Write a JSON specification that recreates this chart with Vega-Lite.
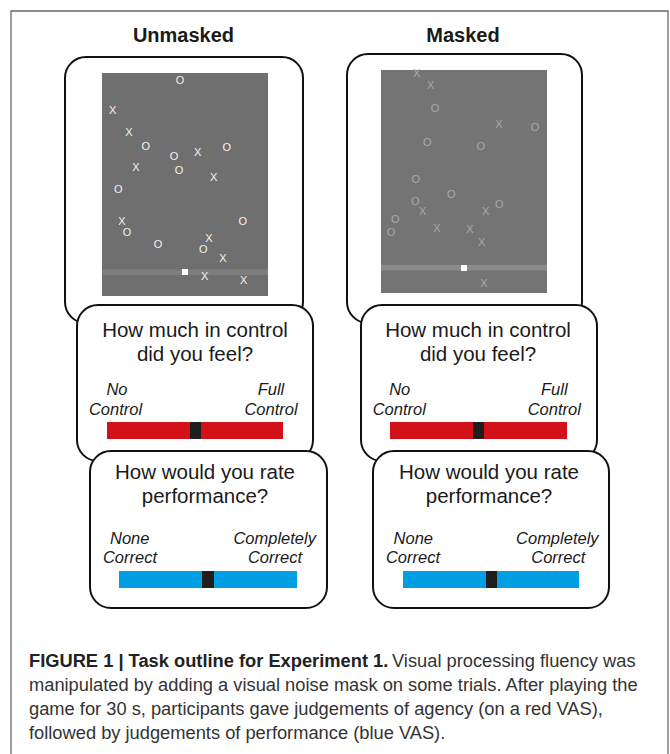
{
  "$schema": "https://vega.github.io/schema/vega-lite/v6.json",
  "width": 670,
  "height": 754,
  "padding": 0,
  "autosize": {"type": "fit", "contains": "padding"},
  "background": "white",
  "config": {"view": {"stroke": null}},
  "datasets": {
    "frame": [{"x1": 11, "x2": 668, "y1": 11, "y2": 800}],
    "boxes": [
      {"id": "game-unmasked", "x1": 65, "x2": 303, "y1": 57, "y2": 323},
      {"id": "game-masked", "x1": 347, "x2": 582, "y1": 54, "y2": 323},
      {"id": "control-unmasked", "x1": 77, "x2": 313, "y1": 305, "y2": 461},
      {"id": "control-masked", "x1": 361, "x2": 597, "y1": 305, "y2": 461},
      {"id": "perf-unmasked", "x1": 90, "x2": 327, "y1": 451, "y2": 608},
      {"id": "perf-masked", "x1": 373, "x2": 609, "y1": 451, "y2": 608}
    ],
    "rects": [
      {"part": "screen-unmasked", "x1": 102, "x2": 268, "y1": 73, "y2": 296},
      {"part": "screen-masked", "x1": 381, "x2": 547, "y1": 70, "y2": 293},
      {"part": "track-unmasked", "x1": 102, "x2": 268, "y1": 269.5, "y2": 275},
      {"part": "track-masked", "x1": 381, "x2": 547, "y1": 265, "y2": 270.5},
      {"part": "cursor", "x1": 182, "x2": 188, "y1": 269, "y2": 275},
      {"part": "cursor", "x1": 461, "x2": 467, "y1": 265, "y2": 271},
      {"part": "agency", "x1": 107, "x2": 283, "y1": 422, "y2": 439},
      {"part": "agency", "x1": 390, "x2": 567, "y1": 422, "y2": 439},
      {"part": "performance", "x1": 119, "x2": 297, "y1": 571, "y2": 588},
      {"part": "performance", "x1": 403, "x2": 579, "y1": 571, "y2": 588},
      {"part": "slider", "x1": 190, "x2": 201, "y1": 422, "y2": 439},
      {"part": "slider", "x1": 473, "x2": 484, "y1": 422, "y2": 439},
      {"part": "slider", "x1": 202, "x2": 214, "y1": 571, "y2": 588},
      {"part": "slider", "x1": 486, "x2": 497, "y1": 571, "y2": 588}
    ],
    "symbols": [
      {"panel": "Unmasked", "s": "O", "x": 180, "y": 81},
      {"panel": "Unmasked", "s": "X", "x": 112.7, "y": 111},
      {"panel": "Unmasked", "s": "X", "x": 129, "y": 133},
      {"panel": "Unmasked", "s": "O", "x": 145.7, "y": 146.7},
      {"panel": "Unmasked", "s": "O", "x": 174, "y": 156.7},
      {"panel": "Unmasked", "s": "X", "x": 197.7, "y": 153.3},
      {"panel": "Unmasked", "s": "O", "x": 226.7, "y": 148.3},
      {"panel": "Unmasked", "s": "X", "x": 136, "y": 168},
      {"panel": "Unmasked", "s": "O", "x": 179, "y": 171.3},
      {"panel": "Unmasked", "s": "X", "x": 213.7, "y": 178},
      {"panel": "Unmasked", "s": "O", "x": 118.3, "y": 190},
      {"panel": "Unmasked", "s": "X", "x": 122, "y": 221.7},
      {"panel": "Unmasked", "s": "O", "x": 242.7, "y": 222},
      {"panel": "Unmasked", "s": "O", "x": 127, "y": 233.3},
      {"panel": "Unmasked", "s": "O", "x": 158, "y": 245},
      {"panel": "Unmasked", "s": "X", "x": 209, "y": 238.7},
      {"panel": "Unmasked", "s": "O", "x": 203.3, "y": 250.3},
      {"panel": "Unmasked", "s": "X", "x": 223, "y": 259},
      {"panel": "Unmasked", "s": "X", "x": 204.7, "y": 277},
      {"panel": "Unmasked", "s": "X", "x": 243.7, "y": 280.7},
      {"panel": "Masked", "s": "X", "x": 416.7, "y": 74},
      {"panel": "Masked", "s": "X", "x": 430.7, "y": 86},
      {"panel": "Masked", "s": "O", "x": 435, "y": 109.3},
      {"panel": "Masked", "s": "X", "x": 499, "y": 125},
      {"panel": "Masked", "s": "O", "x": 535, "y": 127.7},
      {"panel": "Masked", "s": "O", "x": 427.3, "y": 143.3},
      {"panel": "Masked", "s": "O", "x": 480.7, "y": 146.7},
      {"panel": "Masked", "s": "O", "x": 415.7, "y": 179.7},
      {"panel": "Masked", "s": "O", "x": 451.3, "y": 195},
      {"panel": "Masked", "s": "O", "x": 415.3, "y": 201.7},
      {"panel": "Masked", "s": "X", "x": 422.7, "y": 212.3},
      {"panel": "Masked", "s": "X", "x": 485.7, "y": 212.3},
      {"panel": "Masked", "s": "O", "x": 499.3, "y": 205},
      {"panel": "Masked", "s": "O", "x": 395.3, "y": 220},
      {"panel": "Masked", "s": "X", "x": 437, "y": 229},
      {"panel": "Masked", "s": "X", "x": 470, "y": 230.3},
      {"panel": "Masked", "s": "O", "x": 391, "y": 233},
      {"panel": "Masked", "s": "X", "x": 481.7, "y": 243.3},
      {"panel": "Masked", "s": "X", "x": 484, "y": 284}
    ],
    "titles": [
      {"t": "Unmasked", "x": 183.5, "y": 36},
      {"t": "Masked", "x": 463, "y": 36}
    ],
    "questions": [
      {"t": "How much in control", "x": 195, "y": 331},
      {"t": "did you feel?", "x": 195, "y": 355},
      {"t": "How much in control", "x": 478, "y": 331},
      {"t": "did you feel?", "x": 478, "y": 355},
      {"t": "How would you rate", "x": 205, "y": 473},
      {"t": "performance?", "x": 205, "y": 497},
      {"t": "How would you rate", "x": 489, "y": 473},
      {"t": "performance?", "x": 489, "y": 497}
    ],
    "labels": [
      {"t": "No", "x": 117, "y": 390},
      {"t": "Control", "x": 115.5, "y": 410},
      {"t": "Full", "x": 271, "y": 390},
      {"t": "Control", "x": 271, "y": 410},
      {"t": "No", "x": 399.7, "y": 390},
      {"t": "Control", "x": 399.3, "y": 410},
      {"t": "Full", "x": 554.3, "y": 390},
      {"t": "Control", "x": 554.3, "y": 410},
      {"t": "None", "x": 129.7, "y": 539},
      {"t": "Correct", "x": 130, "y": 558},
      {"t": "Completely", "x": 274.7, "y": 539},
      {"t": "Correct", "x": 275, "y": 558},
      {"t": "None", "x": 413.3, "y": 539},
      {"t": "Correct", "x": 413, "y": 558},
      {"t": "Completely", "x": 557.3, "y": 539},
      {"t": "Correct", "x": 558.3, "y": 558}
    ],
    "captionBold": [
      {"t": "FIGURE 1 | Task outline for Experiment 1.", "x": 29, "y": 661.5}
    ],
    "caption": [
      {"t": "Visual processing fluency was", "x": 392, "y": 661.5},
      {"t": "manipulated by adding a visual noise mask on some trials. After playing the", "x": 29, "y": 685.7},
      {"t": "game for 30 s, participants gave judgements of agency (on a red VAS),", "x": 29, "y": 709.5},
      {"t": "followed by judgements of performance (blue VAS).", "x": 29, "y": 734}
    ]
  },
  "encoding": {},
  "resolve": {"scale": {"color": "independent"}},
  "layer": [
    {
      "data": {"name": "frame"},
      "mark": {"type": "rect", "fill": null, "stroke": "#6a6a6a", "strokeWidth": 1.3, "clip": true},
      "encoding": {
        "x": {"field": "x1", "type": "quantitative", "scale": {"domain": [0, 670], "nice": false, "zero": false}, "axis": null},
        "x2": {"field": "x2"},
        "y": {"field": "y1", "type": "quantitative", "scale": {"domain": [0, 754], "nice": false, "zero": false, "reverse": true}, "axis": null},
        "y2": {"field": "y2"}
      }
    },
    {
      "data": {"name": "boxes"},
      "mark": {"type": "rect", "fill": "white", "stroke": "#111111", "strokeWidth": 2, "cornerRadius": 21},
      "encoding": {
        "x": {"field": "x1", "type": "quantitative"},
        "x2": {"field": "x2"},
        "y": {"field": "y1", "type": "quantitative"},
        "y2": {"field": "y2"}
      }
    },
    {
      "data": {"name": "rects"},
      "mark": {"type": "rect"},
      "encoding": {
        "x": {"field": "x1", "type": "quantitative"},
        "x2": {"field": "x2"},
        "y": {"field": "y1", "type": "quantitative"},
        "y2": {"field": "y2"},
        "color": {
          "field": "part", "type": "nominal", "legend": null,
          "scale": {
            "domain": ["screen-unmasked", "screen-masked", "track-unmasked", "track-masked", "cursor", "agency", "performance", "slider"],
            "range": ["#6f6f6f", "#747474", "#7e7e7e", "#8b8b8b", "#ffffff", "#d21119", "#009fe3", "#1e1e1e"]
          }
        }
      }
    },
    {
      "data": {"name": "symbols"},
      "mark": {"type": "text", "font": "Liberation Sans", "fontSize": 11, "align": "center", "baseline": "middle"},
      "encoding": {
        "x": {"field": "x", "type": "quantitative"},
        "y": {"field": "y", "type": "quantitative"},
        "text": {"field": "s"},
        "color": {
          "field": "panel", "type": "nominal", "legend": null,
          "scale": {"domain": ["Unmasked", "Masked"], "range": ["#f2f2f2", "#a9a9a9"]}
        }
      }
    },
    {
      "data": {"name": "titles"},
      "mark": {"type": "text", "font": "Liberation Sans", "fontSize": 20, "fontWeight": "bold", "color": "#1a1a1a", "align": "center", "baseline": "middle"},
      "encoding": {
        "x": {"field": "x", "type": "quantitative"},
        "y": {"field": "y", "type": "quantitative"},
        "text": {"field": "t"}
      }
    },
    {
      "data": {"name": "questions"},
      "mark": {"type": "text", "font": "Liberation Sans", "fontSize": 20.5, "color": "#1a1a1a", "align": "center", "baseline": "middle"},
      "encoding": {
        "x": {"field": "x", "type": "quantitative"},
        "y": {"field": "y", "type": "quantitative"},
        "text": {"field": "t"}
      }
    },
    {
      "data": {"name": "labels"},
      "mark": {"type": "text", "font": "Liberation Sans", "fontSize": 16.5, "fontStyle": "italic", "color": "#1a1a1a", "align": "center", "baseline": "middle"},
      "encoding": {
        "x": {"field": "x", "type": "quantitative"},
        "y": {"field": "y", "type": "quantitative"},
        "text": {"field": "t"}
      }
    },
    {
      "data": {"name": "captionBold"},
      "mark": {"type": "text", "font": "Liberation Sans", "fontSize": 18.3, "fontWeight": "bold", "color": "#222222", "align": "left", "baseline": "middle"},
      "encoding": {
        "x": {"field": "x", "type": "quantitative"},
        "y": {"field": "y", "type": "quantitative"},
        "text": {"field": "t"}
      }
    },
    {
      "data": {"name": "caption"},
      "mark": {"type": "text", "font": "Liberation Sans", "fontSize": 18.3, "color": "#333333", "align": "left", "baseline": "middle"},
      "encoding": {
        "x": {"field": "x", "type": "quantitative"},
        "y": {"field": "y", "type": "quantitative"},
        "text": {"field": "t"}
      }
    }
  ]
}
